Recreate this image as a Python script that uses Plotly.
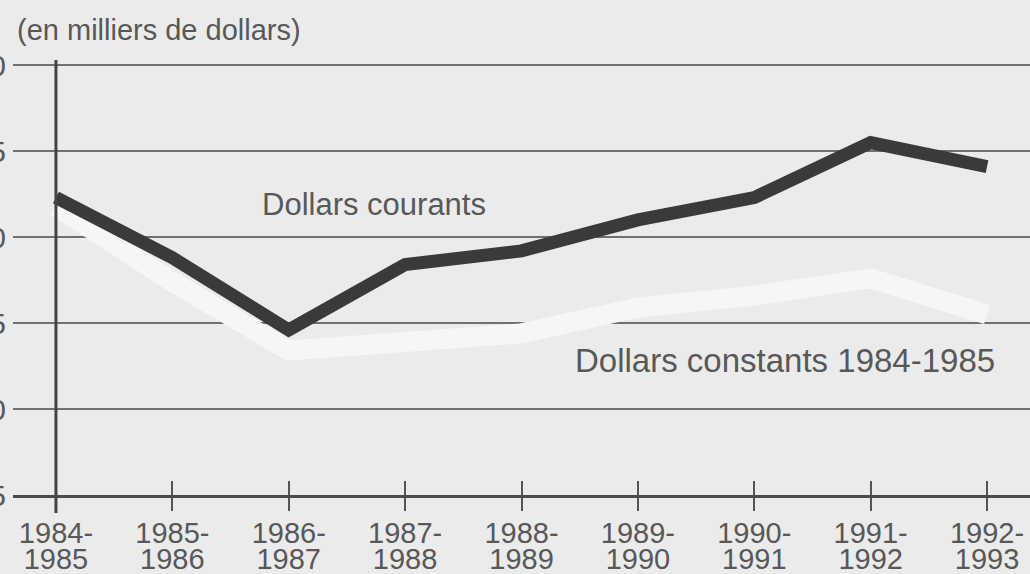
import plotly.graph_objects as go

# ---- data ----
periods = ["1984-1985", "1985-1986", "1986-1987", "1987-1988", "1988-1989",
           "1989-1990", "1990-1991", "1991-1992", "1992-1993"]
dollars_courants = [22.3, 18.8, 14.6, 18.4, 19.2, 21.0, 22.3, 25.5, 24.1]
dollars_constants = [21.8, 17.4, 13.4, 13.9, 14.4, 15.9, 16.6, 17.6, 15.5]
y_ticks = [5, 10, 15, 20, 25, 30]
y_tick_labels = [str(v) for v in y_ticks]
tick_line1 = [p[:5] for p in periods]
tick_line2 = [p[5:] for p in periods]

BG = "#ebebeb"
TXT = "#585858"
FONT = "Liberation Sans, Arial, sans-serif"

fig = go.Figure()
fig.add_trace(go.Scatter(x=periods, y=dollars_constants, mode="lines",
                         line=dict(color="#f6f6f6", width=20),
                         hoverinfo="skip", showlegend=False))
fig.add_trace(go.Scatter(x=periods, y=dollars_courants, mode="lines",
                         line=dict(color="#3a3a3a", width=13),
                         hoverinfo="skip", showlegend=False))

n = len(periods)
xr = [-0.369, n - 1 + 0.369]

fig.update_layout(
    width=1030, height=574,
    template="none",
    paper_bgcolor=BG, plot_bgcolor=BG,
    margin=dict(l=13, r=0, t=60, b=79, autoexpand=False),
    font=dict(family=FONT, color=TXT, size=30),
    xaxis=dict(type="category", range=xr, showgrid=False, zeroline=False,
               showline=True, linecolor="#4a4a4a", linewidth=2.5,
               ticks="outside", ticklen=13, tickwidth=1.5, tickcolor="#555555",
               tickmode="array", tickvals=periods, ticktext=tick_line1,
               tickfont=dict(size=29, color=TXT), ticklabelstandoff=-3,
               automargin=False),
    xaxis2=dict(overlaying="x", anchor="y", side="bottom", type="linear",
                range=xr, showgrid=False, zeroline=False, showline=False,
                ticks="inside", ticklen=14, tickwidth=1.5, tickcolor="#555555",
                tickmode="array", tickvals=list(range(n)), ticktext=tick_line2,
                tickfont=dict(size=29, color=TXT), ticklabelstandoff=44,
                automargin=False),
    yaxis=dict(range=[5, 30.3], tickmode="array", tickvals=y_ticks,
               ticktext=y_tick_labels, showgrid=True, gridcolor="#707070",
               gridwidth=1.5, zeroline=False, showline=False, ticks="",
               ticklabelstandoff=6, tickfont=dict(size=30, color=TXT),
               automargin=False),
    shapes=[dict(type="line", xref="x2", yref="paper", x0=0, x1=0,
                 y0=-0.0414, y1=1.0, line=dict(color="#444444", width=3))],
    annotations=[
        dict(text="(en milliers de dollars)", xref="paper", yref="paper",
             x=0.002, y=1.0, xanchor="left", yanchor="middle", yshift=30,
             showarrow=False, font=dict(size=29, color=TXT)),
        dict(text="Dollars courants", xref="paper", yref="paper",
             x=0.3545, y=0.667, xanchor="center", yanchor="middle",
             showarrow=False, font=dict(size=31, color=TXT)),
        dict(text="Dollars constants 1984-1985", xref="paper", yref="paper",
             x=0.759, y=0.31, xanchor="center", yanchor="middle",
             showarrow=False, font=dict(size=33, color=TXT)),
    ],
)

fig.write_html("out.html",
               config={"displayModeBar": False},
               post_script="document.body.style.margin='0px';"
                           "document.body.style.overflow='hidden';")
